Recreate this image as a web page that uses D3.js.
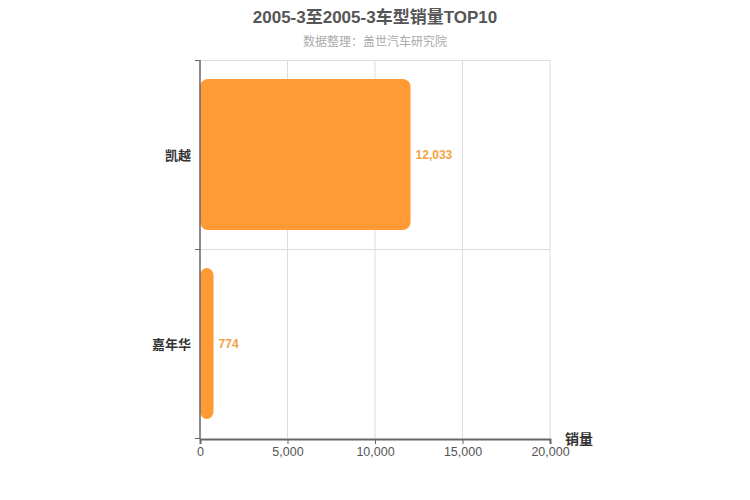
<html><head>
<meta charset="utf-8">
<script src="https://cdn.jsdelivr.net/npm/d3@7/dist/d3.min.js"></script>
<style>
  body { margin: 0; background: #fff; }
  text { font-family: "Liberation Sans", Arial, "Noto Sans CJK SC", sans-serif; }
</style>
</head>
<body>
<script>
// chart data
var models = ["凯越", "嘉年华"];
var sales = [12033, 774];
var xTicks = [0, 5000, 10000, 15000, 20000];

var W = 750, H = 500;
var pLeft = 200, pRight = 550, pTop = 60, pBottom = 438;

var svg = d3.select("body").append("svg")
    .attr("width", W).attr("height", H);

svg.append("text")
    .attr("x", 375).attr("y", 23)
    .attr("text-anchor", "middle")
    .style("font-size", "17px").style("font-weight", "bold")
    .attr("fill", "#555")
    .text("2005-3至2005-3车型销量TOP10");

svg.append("text")
    .attr("x", 375).attr("y", 46)
    .attr("text-anchor", "middle")
    .style("font-size", "12px")
    .attr("fill", "#aaa")
    .text("数据整理：盖世汽车研究院");

var x = d3.scaleLinear().domain([0, 20000]).range([pLeft, pRight]);
var y = d3.scaleBand().domain(models).range([pTop, pBottom]).paddingInner(0.2).paddingOuter(0.1);
var yb = d3.scaleBand().domain(models).range([pTop, pBottom]);

// vertical grid
svg.append("g").selectAll("line").data(xTicks.slice(1)).enter().append("line")
    .attr("x1", function(d) { return x(d); }).attr("x2", function(d) { return x(d); })
    .attr("y1", pTop).attr("y2", pBottom)
    .attr("stroke", "#ddd");
// horizontal grid (category boundaries)
svg.append("g").selectAll("line").data([pTop, yb(models[1])]).enter().append("line")
    .attr("x1", pLeft).attr("x2", pRight)
    .attr("y1", function(d) { return d + 0.5; }).attr("y2", function(d) { return d + 0.5; })
    .attr("stroke", "#ddd");

// bars
svg.append("g").selectAll("rect").data(models).enter().append("rect")
    .attr("x", pLeft)
    .attr("y", function(d) { return y(d); })
    .attr("width", function(d, i) { return x(sales[i]) - pLeft; })
    .attr("height", y.bandwidth())
    .attr("rx", 8).attr("ry", 8)
    .attr("fill", "#ff9a35");

// value labels
svg.append("g").selectAll("text").data(models).enter().append("text")
    .attr("x", function(d, i) { return x(sales[i]) + 5; })
    .attr("y", function(d) { return y(d) + y.bandwidth() / 2 + 4; })
    .style("font-size", "12px").style("font-weight", "bold")
    .attr("fill", "#f2a444")
    .text(function(d, i) { return d3.format(",")(sales[i]); });

// x axis
var xAxis = svg.append("g")
    .attr("transform", "translate(0," + (pBottom + 1) + ")")
    .call(d3.axisBottom(x).tickValues(xTicks).tickSize(5).tickFormat(d3.format(",")));
xAxis.select(".domain").attr("stroke", "#666").attr("stroke-width", 2);
xAxis.selectAll(".tick line").attr("stroke", "#666");
xAxis.selectAll("text").style("font-size", "12.5px").attr("fill", "#555")
    .style("font-family", "\"Liberation Sans\", Arial, sans-serif");

// y axis
var yAxis = svg.append("g").attr("transform", "translate(" + pLeft + ",0)");
yAxis.append("line")
    .attr("x1", 0).attr("x2", 0).attr("y1", pTop).attr("y2", pBottom + 1)
    .attr("stroke", "#666").attr("stroke-width", 1.5);
yAxis.selectAll("line.tk").data([pTop, yb(models[1]), pBottom]).enter().append("line")
    .attr("class", "tk")
    .attr("x1", -5).attr("x2", 0)
    .attr("y1", function(d) { return d + 0.5; }).attr("y2", function(d) { return d + 0.5; })
    .attr("stroke", "#666");
yAxis.selectAll("text").data(models).enter().append("text")
    .attr("x", -9)
    .attr("y", function(d) { return yb(d) + yb.bandwidth() / 2 + 5; })
    .attr("text-anchor", "end")
    .style("font-size", "13px").style("font-weight", "bold")
    .attr("fill", "#333")
    .text(function(d) { return d; });

svg.append("text")
    .attr("x", 565).attr("y", 444)
    .style("font-size", "14px").style("font-weight", "bold")
    .attr("fill", "#333")
    .text("销量");
</script>
</body></html>
